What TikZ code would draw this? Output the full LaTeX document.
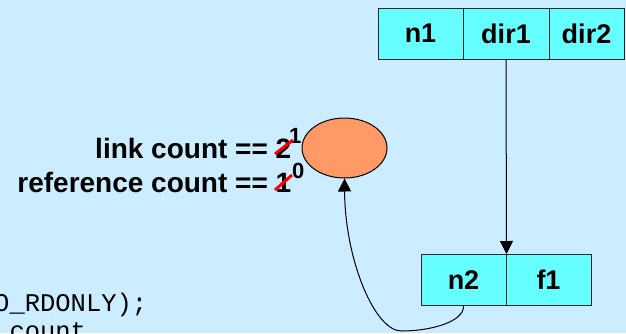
\documentclass[tikz,border=0pt]{standalone}
\usepackage{fontspec}
\setmainfont{Liberation Sans}
\setmonofont{Liberation Mono}
\usetikzlibrary{shapes.geometric,arrows.meta}
\definecolor{bgblue}{HTML}{CCECFF}
\definecolor{cellcyan}{HTML}{66FFFF}
\definecolor{blob}{HTML}{FF9966}
\definecolor{strike}{HTML}{FF0000}
\tikzset{
  cell/.style={draw=black!85, fill=cellcyan, line width=1pt, minimum height=51pt, inner sep=0pt, font=\fontsize{27}{29}\selectfont\bfseries},
  lbl/.style={inner sep=0pt, font=\fontsize{28}{30}\selectfont\bfseries},
  sup/.style={inner sep=0pt, font=\fontsize{22}{24}\selectfont\bfseries},
  code/.style={inner sep=0pt, font=\fontsize{25.5}{28}\selectfont\ttfamily},
  conn/.style={line width=1pt, -{Triangle[length=13pt,width=13pt]}},
  strikeline/.style={draw=strike, line width=3pt},
}
\begin{document}
\begin{tikzpicture}[x=1pt,y=-1pt]
\fill[bgblue] (0,0) rectangle (626,333);
\useasboundingbox (0,0) rectangle (626,333);
\begin{scope}
\clip (0,0) rectangle (626,333);
% code text
\node[code, anchor=base west] (codeA) at (-6,311) {O\_RDONLY);};
\node[code, anchor=base west] (codeB) at (9.3,339) {count};
% top record
\node[cell, minimum width=85pt] (n1) at (420.5,33.5) {n1};
\node[cell, minimum width=86pt] (dir1) at (506,33.5) {dir1};
\node[cell, minimum width=75pt] (dir2) at (586.5,33.5) {dir2};
% bottom record
\node[cell, minimum width=85pt] (n2) at (463.5,280) {n2};
\node[cell, minimum width=85pt] (f1) at (548.5,280) {f1};
% inode
\node[draw=black, fill=blob, ellipse, line width=1pt, minimum width=85pt, minimum height=60pt, inner sep=0pt] (inode) at (344.5,148) {};
% labels
\node[lbl, anchor=base east] (lc) at (291.5,158) {link count == 2};
\node[lbl, anchor=base east] (rc) at (291.5,192) {reference count == 1};
\node[sup, anchor=base west] (lcn) at (289,143) {1};
\node[sup, anchor=base west] (rcn) at (292,178) {0};
\draw[strikeline] (275,154) -- (293,140);
\draw[strikeline] (275,190) -- (292,175);
% connectors
\draw[conn] (dir1.south) -- (n2.north east);
\draw[conn] (n2.south) .. controls (464,322) and (430,331) .. (402,331)
  .. controls (375,332) and (345,260) .. (inode.south);
\end{scope}
\end{tikzpicture}
\end{document}
